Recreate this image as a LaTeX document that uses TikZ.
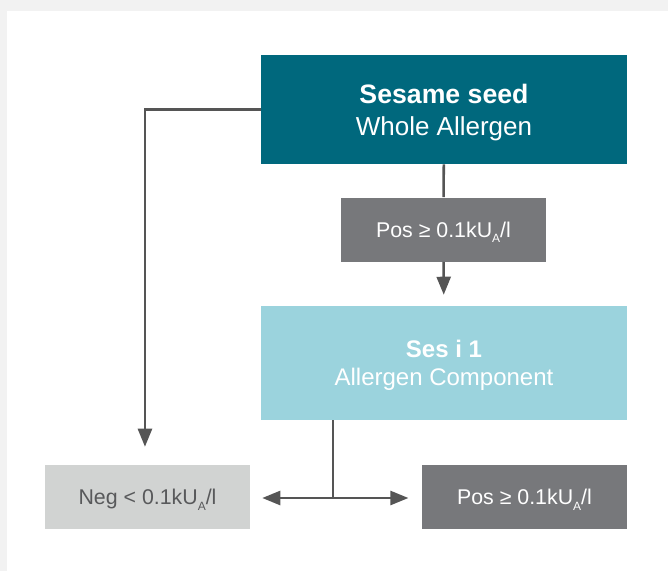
\documentclass[tikz,border=0pt]{standalone}
\usepackage{fontspec}
\setmainfont{Liberation Sans}
\usepackage{xcolor}
\usepackage{tikz}
\usetikzlibrary{positioning, shapes}
\usetikzlibrary{arrows.meta}

\definecolor{sesteal}{RGB}{0,104,125}
\definecolor{sesblue}{RGB}{155,211,221}
\definecolor{posgray}{RGB}{119,120,123}
\definecolor{neggray}{RGB}{209,211,210}
\definecolor{linegray}{RGB}{85,85,85}
\definecolor{textgray}{RGB}{88,89,91}
\definecolor{backgray}{RGB}{242,242,242}

\newcommand{\kua}{0.1kU\raisebox{-0.5ex}{\fontsize{9}{9}\selectfont A}/l}

\begin{document}
\begin{tikzpicture}[x=0.75pt, y=-0.75pt]
        \tikzset{box/.style = {inner sep=0pt, align=center, text depth=0pt, minimum width=153.75pt, minimum height=48pt, font=\fontsize{16}{19}\selectfont}}
        \tikzset{bigbox/.style = {box, minimum width=274.5pt}}
        \tikzset{edge/.style = {draw=linegray, line width=1.9pt, -{Triangle[length=13.5pt,width=10.5pt]}}}
        \tikzset{line/.style = {draw=linegray, line width=1.9pt}}

        % background
        \fill[backgray] (0,0) rectangle (668,571);
        \fill[white] (7,11) rectangle (668,571);
        \useasboundingbox (0,0) rectangle (668,571);

        % boxes
        \node[bigbox, fill=sesteal, text=white, minimum height=81.75pt, font=\fontsize{19.5}{24}\selectfont] (sesame) at (444, 109.5) {\textbf{\fontsize{20}{24}\selectfont Sesame seed}\\Whole Allergen};
        \node[box, fill=posgray, text=white] (posA) at (443.5, 229.5) {Pos ≥ \kua};
        \node[bigbox, fill=sesblue, text=white, minimum height=85.5pt, font=\fontsize{18}{21}\selectfont] (sesi) at (444, 363) {\textbf{Ses i 1}\\Allergen Component};
        \node[box, fill=neggray, text=textgray] (neg) at (147.5, 497) {Neg < \kua};
        \node[box, fill=posgray, text=white] (posB) at (524.5, 497) {Pos ≥ \kua};
        \coordinate (split) at (333, 498);

        % arrows
        \draw[line] (sesame) -- (posA);
        \draw[edge, shorten >=8.25pt] (posA) -- (sesi);
        \draw[edge, shorten >=13.5pt] (sesame.west) -| ([xshift=-1.9pt]neg.north);
        \draw[line] (sesi.south -| split) -- (split);
        \draw[edge, shorten >=9pt] (split) -- (split -| neg.east);
        \draw[edge, shorten >=10pt] (split) -- (split -| posB.west);

\end{tikzpicture}
\end{document}
